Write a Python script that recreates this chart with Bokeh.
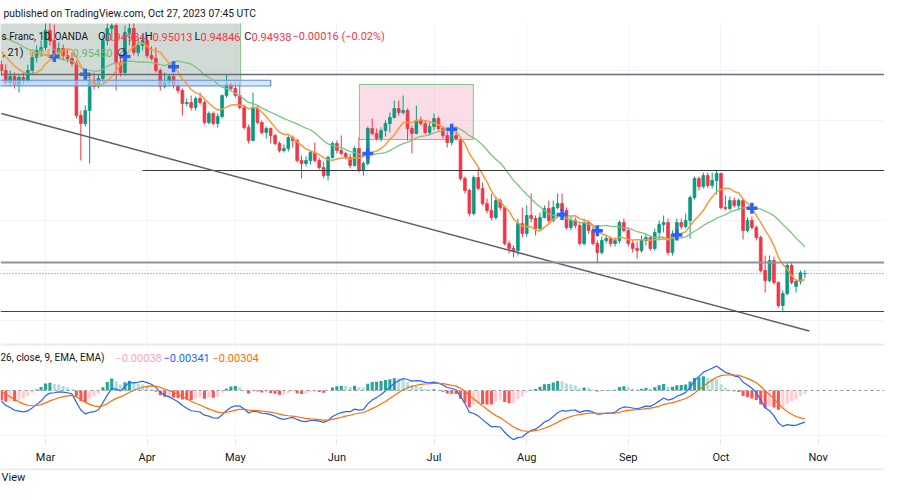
import numpy as np
import pandas as pd
from bokeh.plotting import figure
from bokeh.layouts import column
from bokeh.models import Range1d, Span, Label, Grid, FixedTicker, LinearAxis, ColumnDataSource
from bokeh.embed import file_html
from bokeh.resources import INLINE

# ---------------- data (EUR/CHF, 1D, OANDA) ----------------
start_date = "2023-02-15"
# closes of the bars before the visible window (estimated, used only for indicator warm-up)
history_close = [0.9940, 0.9930, 0.9935, 0.9945, 0.9975, 0.9995, 0.9970, 0.9960, 0.9950, 0.9975,
                 0.9990, 1.0000, 1.0010, 1.0015, 1.0020, 1.0010, 1.0005, 0.9995, 0.9965, 0.9975,
                 0.9955, 0.9945, 0.9930, 0.9935, 0.9920, 0.9915]

opens = [0.9912, 0.9900, 0.9876, 0.9888, 0.9870, 0.9886, 0.9880, 0.9900, 0.9926, 0.9940,
         0.9946, 0.9980, 0.9960, 0.9936, 0.9944, 0.9930, 0.9924, 0.9914, 0.9810, 0.9794,
         0.9820, 0.9880, 0.9868, 0.9884, 0.9960, 0.9984, 0.9990, 0.9916, 0.9896, 0.9976,
         0.9984, 0.9936, 0.9950, 0.9960, 0.9930, 0.9924, 0.9900, 0.9868, 0.9876, 0.9888,
         0.9870, 0.9860, 0.9834, 0.9836, 0.9826, 0.9844, 0.9836, 0.9796, 0.9814, 0.9794,
         0.9808, 0.9850, 0.9872, 0.9864, 0.9850, 0.9826, 0.9786, 0.9760, 0.9824, 0.9796,
         0.9776, 0.9784, 0.9770, 0.9754, 0.9740, 0.9744, 0.9766, 0.9760, 0.9720, 0.9714,
         0.9720, 0.9736, 0.9720, 0.9706, 0.9690, 0.9726, 0.9754, 0.9740, 0.9734, 0.9726,
         0.9710, 0.9744, 0.9700, 0.9714, 0.9784, 0.9774, 0.9764, 0.9780, 0.9794, 0.9806,
         0.9824, 0.9816, 0.9820, 0.9784, 0.9774, 0.9800, 0.9794, 0.9776, 0.9788, 0.9804,
         0.9784, 0.9770, 0.9756, 0.9770, 0.9760, 0.9684, 0.9660, 0.9614, 0.9686, 0.9664,
         0.9634, 0.9620, 0.9606, 0.9640, 0.9626, 0.9554, 0.9544, 0.9540, 0.9594, 0.9574,
         0.9610, 0.9604, 0.9584, 0.9606, 0.9624, 0.9600, 0.9626, 0.9634, 0.9620, 0.9586,
         0.9600, 0.9590, 0.9554, 0.9596, 0.9580, 0.9554, 0.9536, 0.9560, 0.9564, 0.9554,
         0.9560, 0.9596, 0.9580, 0.9554, 0.9544, 0.9540, 0.9560, 0.9566, 0.9544, 0.9576,
         0.9592, 0.9596, 0.9536, 0.9572, 0.9596, 0.9588, 0.9600, 0.9646, 0.9684, 0.9668,
         0.9690, 0.9670, 0.9680, 0.9694, 0.9626, 0.9624, 0.9640, 0.9630, 0.9640, 0.9580,
         0.9600, 0.9586, 0.9566, 0.9500, 0.9480, 0.9520, 0.9476, 0.9430, 0.9454, 0.9510,
         0.9468, 0.9478, 0.94934]

highs = [0.9920, 0.9912, 0.9900, 0.9896, 0.9892, 0.9896, 0.9912, 0.9936, 0.9950, 0.9960,
         0.9996, 1.0000, 0.9992, 0.9956, 0.9952, 0.9944, 0.9936, 0.9920, 0.9820, 0.9830,
         0.9892, 0.9896, 0.9892, 0.9970, 0.9996, 1.0000, 0.9996, 0.9930, 0.9990, 0.9996,
         1.0000, 0.9964, 0.9972, 0.9968, 0.9948, 0.9946, 0.9904, 0.9896, 0.9892, 0.9894,
         0.9880, 0.9864, 0.9844, 0.9850, 0.9848, 0.9856, 0.9840, 0.9818, 0.9818, 0.9814,
         0.9852, 0.9892, 0.9876, 0.9876, 0.9876, 0.9832, 0.9792, 0.9856, 0.9830, 0.9800,
         0.9788, 0.9786, 0.9774, 0.9758, 0.9752, 0.9770, 0.9770, 0.9764, 0.9730, 0.9728,
         0.9740, 0.9756, 0.9726, 0.9718, 0.9730, 0.9758, 0.9760, 0.9770, 0.9738, 0.9734,
         0.9748, 0.9766, 0.9718, 0.9788, 0.9804, 0.9784, 0.9786, 0.9800, 0.9816, 0.9840,
         0.9840, 0.9850, 0.9824, 0.9790, 0.9830, 0.9808, 0.9800, 0.9796, 0.9814, 0.9808,
         0.9788, 0.9778, 0.9784, 0.9778, 0.9764, 0.9688, 0.9664, 0.9690, 0.9704, 0.9676,
         0.9644, 0.9654, 0.9648, 0.9644, 0.9630, 0.9560, 0.9550, 0.9604, 0.9626, 0.9630,
         0.9654, 0.9610, 0.9616, 0.9630, 0.9640, 0.9640, 0.9654, 0.9654, 0.9626, 0.9608,
         0.9606, 0.9596, 0.9604, 0.9600, 0.9588, 0.9560, 0.9568, 0.9570, 0.9568, 0.9566,
         0.9600, 0.9604, 0.9586, 0.9560, 0.9558, 0.9570, 0.9572, 0.9570, 0.9584, 0.9600,
         0.9610, 0.9604, 0.9580, 0.9604, 0.9604, 0.9614, 0.9650, 0.9688, 0.9688, 0.9696,
         0.9696, 0.9696, 0.9700, 0.9696, 0.9650, 0.9648, 0.9646, 0.9644, 0.9644, 0.9606,
         0.9608, 0.9590, 0.9570, 0.9530, 0.9530, 0.9528, 0.9478, 0.9460, 0.9516, 0.9516,
         0.9482, 0.9500, 0.95013]

lows = [0.9890, 0.9870, 0.9868, 0.9864, 0.9856, 0.9872, 0.9876, 0.9892, 0.9916, 0.9928,
        0.9940, 0.9950, 0.9928, 0.9926, 0.9920, 0.9916, 0.9908, 0.9804, 0.9720, 0.9788,
        0.9714, 0.9862, 0.9864, 0.9876, 0.9950, 0.9960, 0.9860, 0.9888, 0.9890, 0.9950,
        0.9930, 0.9928, 0.9940, 0.9924, 0.9920, 0.9896, 0.9860, 0.9864, 0.9868, 0.9864,
        0.9854, 0.9810, 0.9828, 0.9820, 0.9820, 0.9832, 0.9792, 0.9792, 0.9790, 0.9786,
        0.9804, 0.9846, 0.9860, 0.9846, 0.9822, 0.9782, 0.9754, 0.9758, 0.9792, 0.9772,
        0.9764, 0.9754, 0.9750, 0.9736, 0.9736, 0.9738, 0.9746, 0.9716, 0.9684, 0.9708,
        0.9712, 0.9716, 0.9702, 0.9684, 0.9680, 0.9724, 0.9734, 0.9730, 0.9722, 0.9704,
        0.9708, 0.9696, 0.9690, 0.9710, 0.9770, 0.9760, 0.9758, 0.9768, 0.9776, 0.9804,
        0.9810, 0.9812, 0.9760, 0.9734, 0.9772, 0.9790, 0.9772, 0.9770, 0.9780, 0.9780,
        0.9764, 0.9746, 0.9750, 0.9760, 0.9680, 0.9654, 0.9608, 0.9610, 0.9660, 0.9630,
        0.9614, 0.9600, 0.9602, 0.9620, 0.9550, 0.9534, 0.9526, 0.9530, 0.9566, 0.9568,
        0.9596, 0.9570, 0.9580, 0.9604, 0.9594, 0.9596, 0.9622, 0.9616, 0.9582, 0.9580,
        0.9584, 0.9550, 0.9550, 0.9574, 0.9550, 0.9516, 0.9532, 0.9554, 0.9548, 0.9548,
        0.9554, 0.9576, 0.9548, 0.9536, 0.9524, 0.9536, 0.9550, 0.9540, 0.9540, 0.9560,
        0.9576, 0.9530, 0.9530, 0.9564, 0.9582, 0.9584, 0.9564, 0.9642, 0.9660, 0.9664,
        0.9666, 0.9664, 0.9652, 0.9622, 0.9620, 0.9620, 0.9626, 0.9620, 0.9562, 0.9576,
        0.9582, 0.9560, 0.9496, 0.9456, 0.9476, 0.9472, 0.9426, 0.9418, 0.9450, 0.9472,
        0.9456, 0.9472, 0.94846]

closes = [0.9900, 0.9876, 0.9888, 0.9870, 0.9886, 0.9880, 0.9900, 0.9926, 0.9940, 0.9946,
          0.9980, 0.9960, 0.9936, 0.9944, 0.9930, 0.9924, 0.9914, 0.9810, 0.9794, 0.9820,
          0.9880, 0.9868, 0.9884, 0.9960, 0.9984, 0.9990, 0.9916, 0.9896, 0.9976, 0.9984,
          0.9936, 0.9950, 0.9960, 0.9930, 0.9924, 0.9900, 0.9868, 0.9876, 0.9888, 0.9870,
          0.9860, 0.9834, 0.9836, 0.9826, 0.9844, 0.9836, 0.9796, 0.9814, 0.9794, 0.9808,
          0.9850, 0.9872, 0.9864, 0.9850, 0.9826, 0.9786, 0.9760, 0.9824, 0.9796, 0.9776,
          0.9784, 0.9770, 0.9754, 0.9740, 0.9744, 0.9766, 0.9760, 0.9720, 0.9714, 0.9720,
          0.9736, 0.9720, 0.9706, 0.9690, 0.9726, 0.9754, 0.9740, 0.9734, 0.9726, 0.9710,
          0.9744, 0.9700, 0.9714, 0.9784, 0.9774, 0.9764, 0.9780, 0.9794, 0.9806, 0.9824,
          0.9816, 0.9820, 0.9784, 0.9774, 0.9800, 0.9794, 0.9776, 0.9788, 0.9804, 0.9784,
          0.9770, 0.9756, 0.9770, 0.9764, 0.9684, 0.9660, 0.9614, 0.9686, 0.9664, 0.9634,
          0.9620, 0.9606, 0.9640, 0.9626, 0.9554, 0.9544, 0.9540, 0.9594, 0.9574, 0.9610,
          0.9604, 0.9584, 0.9606, 0.9624, 0.9600, 0.9626, 0.9634, 0.9620, 0.9586, 0.9600,
          0.9590, 0.9554, 0.9596, 0.9580, 0.9554, 0.9536, 0.9560, 0.9564, 0.9554, 0.9560,
          0.9596, 0.9580, 0.9554, 0.9544, 0.9540, 0.9560, 0.9566, 0.9544, 0.9576, 0.9592,
          0.9596, 0.9536, 0.9572, 0.9596, 0.9588, 0.9600, 0.9646, 0.9684, 0.9668, 0.9690,
          0.9670, 0.9680, 0.9694, 0.9626, 0.9624, 0.9640, 0.9630, 0.9640, 0.9580, 0.9600,
          0.9586, 0.9566, 0.9500, 0.9480, 0.9520, 0.9476, 0.9430, 0.9454, 0.9510, 0.9476,
          0.9478, 0.94954, 0.94938]

month_labels = ["Mar", "Apr", "May", "Jun", "Jul", "Aug", "Sep", "Oct", "Nov"]

# chart drawings (price levels, trend line anchors as [bar, price], rectangles)
level_prices = [0.9892, 0.9516, 0.9418]
ray_price = 0.9700
ray_start_bar = 32
trend_bars = [0, 183]
trend_prices = [0.9814, 0.9379]
gray_box = dict(left=-8, right=54.2, bottom=0.9870, top=1.0040)
blue_box = dict(left=-8, right=61.0, bottom=0.98690, top=0.98805)
pink_box = dict(left=81.1, right=106.9, bottom=0.9762, top=0.9872)

# legend texts as visible in the (cropped) screenshot
legend_title = "s Franc, 1D, OANDA"
legend_ohlc = [("O", "0.94934"), ("H", "0.95013"), ("L", "0.94846"), ("C", "0.94938")]
legend_change = "\u22120.00016 (\u22120.02%)"
ma_title = ", 21)"
ma_values = ["0.94791", "0.95450", "\u2205"]
macd_title = "26, close, 9, EMA, EMA)"
macd_values = ["\u22120.00038", "\u22120.00341", "\u22120.00304"]
header_text = "published on TradingView.com, Oct 27, 2023 07:45 UTC"
footer_text = "View"

# ---------------- computations ----------------
o = np.array(opens); h = np.array(highs); l = np.array(lows); c = np.array(closes)
n = len(c)
x = np.arange(n)
future = pd.bdate_range(start_date, "2023-11-30")
month_ticks = [int(np.argmax((future.month == m) & (future.year == 2023))) for m in range(3, 12)]

all_close = pd.Series(list(history_close) + list(closes))
nh = len(history_close)
ma9_all = all_close.rolling(9).mean()
ma21_all = all_close.rolling(21).mean()
ma9 = ma9_all.values[nh:]
ma21 = ma21_all.values[nh:]
diff_all = (ma9_all - ma21_all).values
sgn = np.sign(diff_all)
cross_idx = [i - nh for i in range(nh, len(all_close))
             if sgn[i] != sgn[i - 1] and not np.isnan(diff_all[i - 1])]

ema12 = all_close.ewm(span=12, adjust=False).mean()
ema26 = all_close.ewm(span=26, adjust=False).mean()
macd_all = ema12 - ema26
signal_all = macd_all.ewm(span=9, adjust=False).mean()
hist_all = (macd_all - signal_all).values
macd = macd_all.values[nh:]
signal = signal_all.values[nh:]
hist = hist_all[nh:]
hist_prev = hist_all[nh - 1:-1]
hist_colors = []
for hv, hp in zip(hist, hist_prev):
    if hv >= 0:
        hist_colors.append("#26a69a" if hv > hp else "#b2dfdb")
    else:
        hist_colors.append("#ffcdd2" if hv > hp else "#ff5252")

# ---------------- layout helpers (pixel geometry of the screenshot) ----------------
W = 884
BAR_PX = 4.415
def px2x(px):
    return month_ticks[0] + (px - 45) / BAR_PX
def py2p(py):
    return 1.004 - py * 0.0002
def py2m(py):
    return (390 - py) * 0.00011

FONT = "Roboto"
DARK = "#131722"
GREEN = "#089981"
RED = "#f23645"

def base(height, xr, yr, **kw):
    f = figure(width=W, height=height, x_range=xr, y_range=yr, output_backend="svg",
               toolbar_location=None, x_axis_type=None, y_axis_type=None,
               min_border=0, outline_line_color=None, background_fill_color="white",
               border_fill_color="white", **kw)
    return f

def lab(fig, xx, yy, text, color=DARK, align="left", size="11px"):
    fig.add_layout(Label(x=xx, y=yy, text=text, text_color=color, text_align=align,
                         text_baseline="middle", text_font=FONT, text_font_size=size))

# ---------------- header ----------------
ph = base(23, Range1d(0, W), Range1d(23, 0))
lab(ph, 3, 13, header_text, color=DARK, size="10.3px")

# ---------------- price pane ----------------
pp = base(320, Range1d(px2x(0), px2x(W)), Range1d(py2p(343), py2p(23)))
pp.add_layout(Grid(dimension=0, ticker=FixedTicker(ticks=month_ticks), grid_line_color="#f0f3fa"))
pp.add_layout(Grid(dimension=1, ticker=FixedTicker(ticks=[0.94, 0.95, 0.96, 0.97, 0.98, 0.99]),
                   grid_line_color="#f0f3fa"))

pp.quad(left=[gray_box["left"]], right=[gray_box["right"]], bottom=[gray_box["bottom"]], top=[gray_box["top"]],
        fill_color="#b4c2bb", fill_alpha=0.6, line_color="#66bb6a", line_alpha=0.8, line_width=1)
pp.quad(left=[pink_box["left"]], right=[pink_box["right"]], bottom=[pink_box["bottom"]], top=[pink_box["top"]],
        fill_color="#f8bbd0", fill_alpha=0.5, line_color="#81c784", line_width=1)

inc = c >= o
colors = np.where(inc, GREEN, RED)
src = ColumnDataSource(dict(x=x, top=np.maximum(o, c), bottom=np.minimum(o, c), high=h, low=l, color=colors))
pp.segment(x0="x", y0="low", x1="x", y1="high", line_color="color", line_width=1, source=src)
pp.vbar(x="x", width=0.62, top="top", bottom="bottom", fill_color="color", line_color="color",
        line_width=0.8, source=src)

pp.quad(left=[blue_box["left"]], right=[blue_box["right"]], bottom=[blue_box["bottom"]], top=[blue_box["top"]],
        fill_color="#bbdefb", fill_alpha=0.6, line_color="#5b8def", line_width=1.2)

pp.line(x, ma21, line_color="#7cc47f", line_width=1.3)
pp.line(x, ma9, line_color="#f89a3c", line_width=1.5)

pp.add_layout(Span(location=level_prices[0], dimension="width", line_color="#6a6d78", line_width=1.6))
pp.add_layout(Span(location=level_prices[1], dimension="width", line_color="#8f929b", line_width=2))
pp.add_layout(Span(location=level_prices[2], dimension="width", line_color="#2d4f48", line_width=1.2))
pp.segment(x0=[ray_start_bar], y0=[ray_price], x1=[px2x(W) + 5], y1=[ray_price],
           line_color="#363a45", line_width=1.2)
pp.line(trend_bars, trend_prices, line_color="#5d606b", line_width=1.5)
pp.add_layout(Span(location=closes[-1], dimension="width", line_color=RED, line_width=1, line_dash="1 2"))

pp.scatter([x[i] for i in cross_idx], [ma9[i] for i in cross_idx], marker="cross", size=11,
           line_color="#2962ff", line_width=3.5)

# legends
lab(pp, px2x(1), py2p(36), legend_title, size="10px")
for (letter, val), xpos in zip(legend_ohlc, [105, 152, 200, 251]):
    lab(pp, px2x(xpos), py2p(36), letter, align="right")
    lab(pp, px2x(xpos), py2p(36), val, color=RED)
lab(pp, px2x(292), py2p(36), legend_change, color=RED)
lab(pp, px2x(2), py2p(52), ma_title)
for val, xpos, col in zip(ma_values, [29, 72, 116], ["#f89a3c", "#66bb6a", DARK]):
    lab(pp, px2x(xpos), py2p(52), val, color=col)

# ---------------- MACD pane ----------------
pm = base(125, Range1d(px2x(0), px2x(W)), Range1d(py2m(440), py2m(343)), min_border_bottom=28)
pm.add_layout(Grid(dimension=0, ticker=FixedTicker(ticks=month_ticks), grid_line_color="#f0f3fa"))
pm.add_layout(Grid(dimension=1, ticker=FixedTicker(ticks=[-0.005, 0.005]), grid_line_color="#f0f3fa"))
pm.add_layout(Span(location=0, dimension="width", line_color="#9598a1", line_width=1, line_dash="3 3"))
pm.add_layout(Span(location=py2m(343.5), dimension="width", line_color="#e0e3eb", line_width=1.5))
pm.vbar(x=x, width=0.7, top=hist, bottom=0, fill_color=hist_colors, line_color=None)
pm.line(x, macd, line_color="#2962ff", line_width=1.2)
pm.line(x, signal, line_color="#ff6d00", line_width=1.2)

ax = LinearAxis(ticker=FixedTicker(ticks=month_ticks),
                major_label_overrides={t: m for t, m in zip(month_ticks, month_labels)})
ax.axis_line_color = None
ax.major_tick_line_color = "#e0e3eb"
ax.major_tick_out = 4
ax.major_tick_in = 0
ax.minor_tick_line_color = None
ax.major_label_standoff = 6
ax.major_label_text_font = FONT
ax.major_label_text_font_size = "11px"
ax.major_label_text_color = DARK
pm.add_layout(ax, "below")

lab(pm, px2x(0), py2m(357), macd_title, size="10px")
for val, xpos, col in zip(macd_values, [115, 163, 212], ["#f7a8b2", "#2962ff", "#ff6d00"]):
    lab(pm, px2x(xpos), py2m(357), val, color=col)

# ---------------- footer ----------------
pf = base(16, Range1d(0, W), Range1d(484, 468))
pf.add_layout(Span(location=468.5, dimension="width", line_color="#e0e3eb", line_width=1.5))
lab(pf, 1, 477, footer_text, color=DARK)

layout = column(ph, pp, pm, pf, spacing=0)
open("out.html", "w").write(file_html(layout, INLINE))
